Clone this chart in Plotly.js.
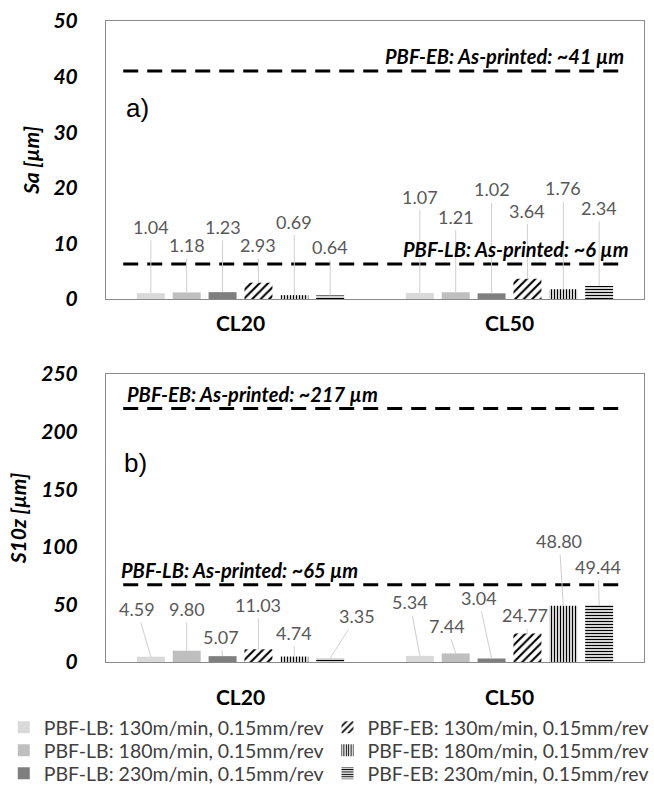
<!DOCTYPE html>
<html>
<head>
<meta charset="utf-8">
<script src="https://cdn.plot.ly/plotly-3.0.1.min.js"></script>
<style>html,body{margin:0;padding:0;background:#fff;}#chart{width:654px;height:787px;}</style>
</head>
<body>
<div id="chart"></div>
<script>
// ---------------- DATA ----------------
const categories = ['CL20', 'CL50'];
const seriesNames = [
  'PBF-LB: 130m/min, 0.15mm/rev',
  'PBF-LB: 180m/min, 0.15mm/rev',
  'PBF-LB: 230m/min, 0.15mm/rev',
  'PBF-EB: 130m/min, 0.15mm/rev',
  'PBF-EB: 180m/min, 0.15mm/rev',
  'PBF-EB: 230m/min, 0.15mm/rev'
];
// Sa [µm]
const sa_LB130 = [1.04, 1.07];
const sa_LB180 = [1.18, 1.21];
const sa_LB230 = [1.23, 1.02];
const sa_EB130 = [2.93, 3.64];
const sa_EB180 = [0.69, 1.76];
const sa_EB230 = [0.64, 2.34];
// S10z [µm]
const s10z_LB130 = [4.59, 5.34];
const s10z_LB180 = [9.80, 7.44];
const s10z_LB230 = [5.07, 3.04];
const s10z_EB130 = [11.03, 24.77];
const s10z_EB180 = [4.74, 48.80];
const s10z_EB230 = [3.35, 49.44];
// As-printed reference levels
const saRefValues = [41, 6.3];
const saRefLabels = ['PBF-EB: As-printed: ~41 µm', 'PBF-LB: As-printed: ~6 µm'];
const s10zRefValues = [220, 67];
const s10zRefLabels = ['PBF-EB: As-printed: ~217 µm', 'PBF-LB: As-printed: ~65 µm'];
const yTicksSa = [0, 10, 20, 30, 40, 50];
const yTicksS10z = [0, 50, 100, 150, 200, 250];

const saSeries = [sa_LB130, sa_LB180, sa_LB230, sa_EB130, sa_EB180, sa_EB230];
const s10zSeries = [s10z_LB130, s10z_LB180, s10z_LB230, s10z_EB130, s10z_EB180, s10z_EB230];

// ---------------- STYLE ----------------
const FONT = 'Lato, "Open Sans", sans-serif';
const styles = [
  {color: '#d9d9d9'},
  {color: '#bfbfbf'},
  {color: '#7f7f7f'},
  {color: '#ffffff', pattern: {shape: '/', fgcolor: '#000', bgcolor: '#fff', size: 6, solidity: 0.35}},
  {color: '#ffffff', pattern: {shape: '|', fgcolor: '#000', bgcolor: '#fff', size: 3, solidity: 0.45}},
  {color: '#ffffff', pattern: {shape: '-', fgcolor: '#000', bgcolor: '#fff', size: 3, solidity: 0.45}}
];
// one legend box per entry: LB entries in the left column, EB entries in the right column
const legendIds = ['legend', 'legend2', 'legend3', 'legend4', 'legend5', 'legend6'];
const BARGAP = 0.2, NSER = 6;

// label layout: [dx px, label y in axis units] per category per series
const saLabelPos = [
  [[0, 13.0], [0, 9.75], [0, 13.0], [0, 9.75], [0, 13.9], [0, 9.4]],
  [[0, 18.4], [0, 14.8], [0, 19.7], [0, 15.9], [0, 19.9], [0, 16.4]]
];
const s10zLabelPos = [
  [[-14, 46], [0, 46], [-2, 21.7], [0, 49.5], [0, 25.2], [27, 40]],
  [[-10, 52], [-9, 31.3], [-13, 55.6], [-2, 40.8], [-4, 105], [-1, 82.5]]
];

const traces = [];
function addBars(series, xa, ya, showLegend) {
  series.forEach((vals, i) => {
    traces.push({
      type: 'bar', x: categories, y: vals, name: seriesNames[i],
      xaxis: xa, yaxis: ya, showlegend: showLegend, legend: legendIds[i],
      marker: Object.assign({line: {width: 0}}, styles[i]),
      hoverinfo: 'skip'
    });
  });
}
addBars(saSeries, 'x', 'y', true);
addBars(s10zSeries, 'x2', 'y2', false);

const annotations = [];
const shapes = [];
function barX(ci, si) {
  const w = (1 - BARGAP) / NSER;
  return ci - (1 - BARGAP) / 2 + (si + 0.5) * w;
}
function addLabels(series, pos, xr, yr) {
  series.forEach((vals, si) => {
    vals.forEach((v, ci) => {
      const p = pos[ci][si];
      annotations.push({
        xref: xr, yref: yr, x: barX(ci, si), y: v,
        axref: 'pixel', ayref: yr, ax: p[0], ay: p[1],
        text: v.toFixed(2), showarrow: true, arrowhead: 0, arrowwidth: 1,
        arrowcolor: '#cfcfcf', standoff: 0, startstandoff: 1,
        font: {family: FONT, size: 18, color: '#595959'}
      });
    });
  });
}
addLabels(saSeries, saLabelPos, 'x', 'y');
addLabels(s10zSeries, s10zLabelPos, 'x2', 'y2');

function addRef(vals, labels, xr, yr, align) {
  vals.forEach((v, i) => {
    shapes.push({
      type: 'line', xref: xr + ' domain', yref: yr, x0: 0.032, x1: 0.965, y0: v, y1: v,
      line: {color: '#000', width: 3, dash: '15px,9px'}
    });
    const al = align[i];
    annotations.push({
      xref: xr + ' domain', yref: yr, x: al[0], y: v, yshift: 15,
      xanchor: al[1], yanchor: 'middle', showarrow: false, text: labels[i],
      font: {family: FONT, size: 20, color: '#000', weight: 'bold', style: 'italic'}
    });
  });
}
addRef(saRefValues, saRefLabels, 'x', 'y', [[0.966, 'right'], [0.975, 'right']]);
addRef(s10zRefValues, s10zRefLabels, 'x2', 'y2', [[0.036, 'left'], [0.025, 'left']]);

annotations.push({xref: 'x domain', yref: 'y domain', x: 0.033, y: 0.687, xanchor: 'left',
  yanchor: 'middle', showarrow: false, text: 'a)', font: {family: 'Liberation Sans, Arial', size: 26, color: '#000'}});
annotations.push({xref: 'x2 domain', yref: 'y2 domain', x: 0.03, y: 0.69, xanchor: 'left',
  yanchor: 'middle', showarrow: false, text: 'b)', font: {family: 'Liberation Sans, Arial', size: 26, color: '#000'}});

const axLine = {showline: true, mirror: true, linecolor: '#8a8a8a', linewidth: 1, showgrid: false, zeroline: false, ticks: ''};
const xTickFont = {family: FONT, size: 21, color: '#000', weight: 'bold'};
const yTickFont = {family: FONT, size: 21, color: '#000', weight: 'bold', style: 'italic'};
const yTitleFont = {family: FONT, size: 21, color: '#000', weight: 'bold', style: 'italic'};
const legendBase = {orientation: 'v', yanchor: 'top',
  font: {family: FONT, size: 19.5, color: '#404040'},
  itemwidth: 30, bgcolor: 'rgba(0,0,0,0)', borderwidth: 0};
const legendRowsY = [-0.0718, -0.1076, -0.1435];
const legendLeft = {x: -0.19, xanchor: 'left'};
const legendRight = {x: 1.0195, xanchor: 'right'};

const layout = {
  width: 654, height: 787,
  margin: {l: 106, r: 10, t: 21, b: 125, autoexpand: false},
  paper_bgcolor: '#fff', plot_bgcolor: '#fff',
  barmode: 'group', bargap: BARGAP, bargroupgap: 0.22,
  showlegend: true,
  xaxis: Object.assign({}, axLine, {domain: [0, 1], anchor: 'y', type: 'category', tickfont: xTickFont, ticklabelstandoff: 6}),
  yaxis: Object.assign({}, axLine, {domain: [0.5663, 1], anchor: 'x', range: [0, 50], tickvals: yTicksSa,
    tickfont: yTickFont, ticklabelstandoff: 23, title: {text: 'Sa [µm]', font: yTitleFont, standoff: 8}}),
  xaxis2: Object.assign({}, axLine, {domain: [0, 1], anchor: 'y2', type: 'category', tickfont: xTickFont, ticklabelstandoff: 17}),
  yaxis2: Object.assign({}, axLine, {domain: [0, 0.4493], anchor: 'x2', range: [0, 250], tickvals: yTicksS10z,
    tickfont: yTickFont, ticklabelstandoff: 23, title: {text: 'S10z [µm]', font: yTitleFont, standoff: 8}}),
  legend: Object.assign({}, legendBase, legendLeft, {y: legendRowsY[0]}),
  legend2: Object.assign({}, legendBase, legendLeft, {y: legendRowsY[1]}),
  legend3: Object.assign({}, legendBase, legendLeft, {y: legendRowsY[2]}),
  legend4: Object.assign({}, legendBase, legendRight, {y: legendRowsY[0]}),
  legend5: Object.assign({}, legendBase, legendRight, {y: legendRowsY[1]}),
  legend6: Object.assign({}, legendBase, legendRight, {y: legendRowsY[2]}),
  annotations: annotations,
  shapes: shapes
};

Plotly.newPlot('chart', traces, layout, {displayModeBar: false, staticPlot: true});
</script>
</body>
</html>
